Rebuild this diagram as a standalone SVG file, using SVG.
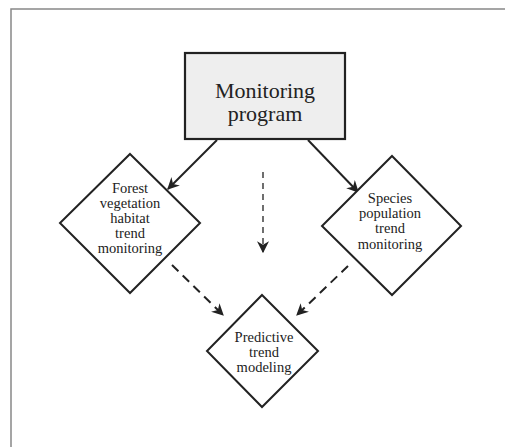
<svg xmlns="http://www.w3.org/2000/svg" width="505" height="447" viewBox="0 0 505 447">
<style>
.node{fill:#fff;stroke:#222;stroke-width:2}
.box{fill:#eeeeee;stroke:#222;stroke-width:2.2}
.t{font-family:"Liberation Serif","Times New Roman",serif;fill:#222;text-anchor:middle}
.s{font-size:14.5px}
.b{font-size:22px}
.c{stroke:#222;stroke-width:2;fill:none}
.d{stroke-dasharray:9,6}
.d2{stroke-dasharray:6,5;stroke-width:1.3}
</style>
<defs>
<marker id="ah2" viewBox="0 0 10 10" refX="9" refY="5" markerWidth="12" markerHeight="12" markerUnits="userSpaceOnUse" orient="auto">
<path d="M0,0 L10,5 L0,10 L3,5 Z" fill="#222"/>
</marker>
</defs>
<path d="M11,447 V9 H505" fill="none" stroke="#888" stroke-width="1.5"/>
<g id="connectors">
<line class="c" x1="217" y1="140" x2="168" y2="189" marker-end="url(#ah2)"/>
<line class="c" x1="308" y1="140" x2="358" y2="192" marker-end="url(#ah2)"/>
<line class="c d2" x1="263" y1="172" x2="263" y2="252" marker-end="url(#ah2)"/>
<line class="c d" x1="172" y1="265" x2="223" y2="315" marker-end="url(#ah2)"/>
<line class="c d" x1="348" y1="266" x2="297" y2="315" marker-end="url(#ah2)"/>
</g>
<g id="monitoring">
<rect class="box" x="185" y="53" width="160" height="86"/>
<text class="t b" x="265" y="98">Monitoring</text>
<text class="t b" x="265" y="121">program</text>
</g>
<g id="forest">
<polygon class="node" points="130,154 200,223 130,293 60,223"/>
<text class="t s" x="130" y="193">Forest</text>
<text class="t s" x="130" y="208">vegetation</text>
<text class="t s" x="130" y="223">habitat</text>
<text class="t s" x="130" y="238">trend</text>
<text class="t s" x="130" y="253">monitoring</text>
</g>
<g id="species">
<polygon class="node" points="392,156 461,226 392,295 322,226"/>
<text class="t s" x="390" y="203">Species</text>
<text class="t s" x="390" y="218">population</text>
<text class="t s" x="390" y="233">trend</text>
<text class="t s" x="390" y="249">monitoring</text>
</g>
<g id="predictive">
<polygon class="node" points="262,295 318,351 262,407 207,351"/>
<text class="t s" x="264" y="342">Predictive</text>
<text class="t s" x="264" y="357">trend</text>
<text class="t s" x="264" y="372">modeling</text>
</g>
</svg>
